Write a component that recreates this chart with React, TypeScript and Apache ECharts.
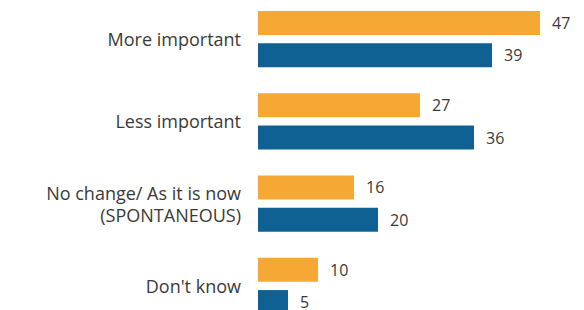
import React, { useEffect, useRef } from "react";
import * as echarts from "echarts";

const categories = [
  "More important",
  "Less important",
  "No change/ As it is now\n(SPONTANEOUS)",
  "Don't know",
];
const orangeValues = [47, 27, 16, 10];
const blueValues = [39, 36, 20, 5];

export default function App() {
  const ref = useRef<HTMLDivElement>(null);
  useEffect(() => {
    if (!ref.current) return;
    const chart = echarts.init(ref.current, null, { renderer: "svg" });
    const font = "'Open Sans', sans-serif";
    const valueLabel = {
      show: true,
      position: "right",
      distance: 12,
      color: "#3a3a3a",
      fontSize: 16,
      lineHeight: 16,
      fontFamily: font,
    };
    chart.setOption({
      animation: false,
      grid: {
        left: 258,
        top: -2,
        width: 300,
        height: 329,
        containLabel: false,
        outerBoundsMode: "none",
      },
      xAxis: {
        type: "value",
        min: 0,
        max: 50,
        show: false,
      },
      yAxis: {
        type: "category",
        data: categories,
        inverse: true,
        axisLine: { show: false },
        axisTick: { show: false },
        splitLine: { show: false },
        axisLabel: {
          margin: 17,
          color: "#3a3a3a",
          fontSize: 18,
          fontFamily: font,
          lineHeight: 22,
          align: "right",
        },
      },
      series: [
        {
          type: "bar",
          data: orangeValues,
          barWidth: 24,
          barGap: "35%",
          itemStyle: { color: "#F5A834" },
          label: valueLabel,
        },
        {
          type: "bar",
          data: blueValues,
          barWidth: 24,
          itemStyle: { color: "#0E6192" },
          label: valueLabel,
        },
      ],
    });
    return () => chart.dispose();
  }, []);
  return (
    <div
      ref={ref}
      style={{ position: "fixed", left: 0, top: 0, width: 584, height: 310, background: "#fff" }}
    />
  );
}
